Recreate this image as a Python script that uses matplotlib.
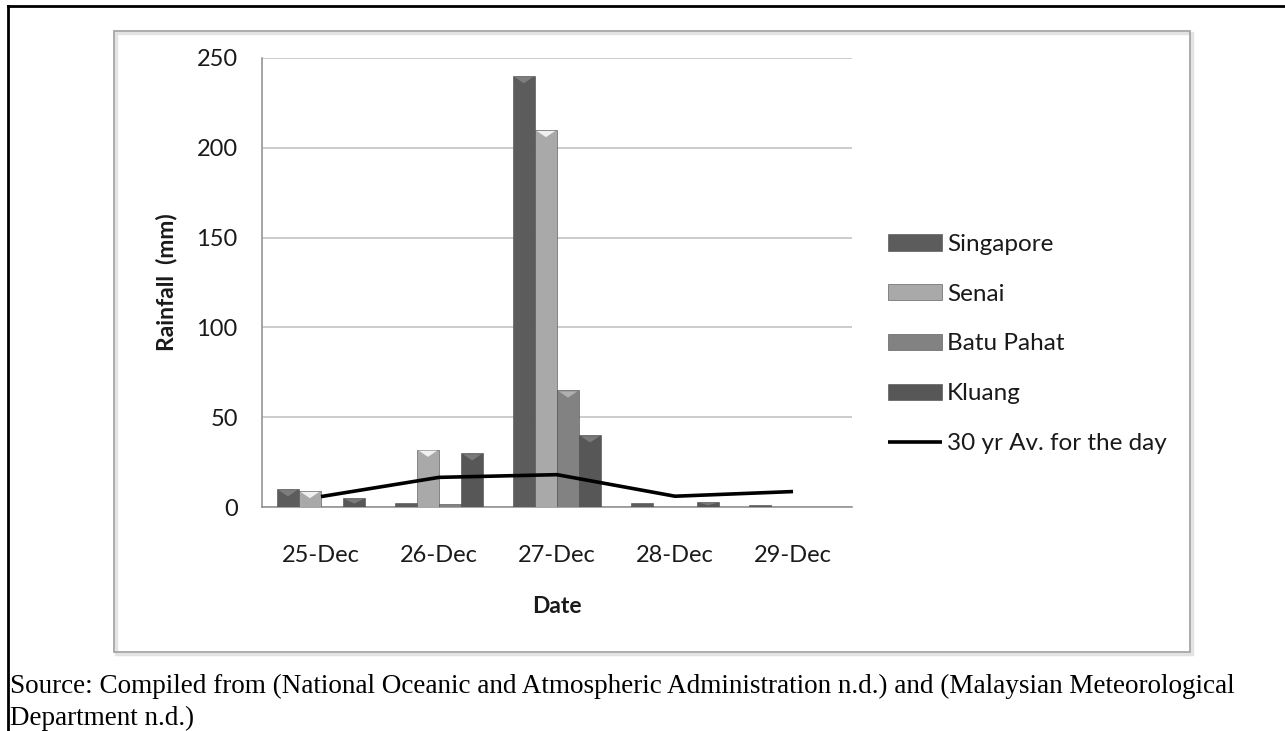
import numpy as np
import matplotlib.pyplot as plt
from matplotlib.patches import Rectangle, Polygon
from matplotlib.lines import Line2D

# ===============================
# Data
# ===============================
dates = ['25-Dec', '26-Dec', '27-Dec', '28-Dec', '29-Dec']
singapore = [10, 2, 240, 2, 1]
senai = [9, 32, 210, 0, 0]
batu_pahat = [0, 1.5, 65, 0, 0]
kluang = [5, 30, 40, 3, 0]
avg_30yr = [5.8, 16.5, 18, 6, 8.6]

series_names = ['Singapore', 'Senai', 'Batu Pahat', 'Kluang']
line_name = '30 yr Av. for the day'
yticks = [0, 50, 100, 150, 200, 250]

source_lines = [
    'Source: Compiled from (National Oceanic and Atmospheric Administration n.d.) and (Malaysian Meteorological',
    'Department n.d.)',
]

# ===============================
# Styling
# ===============================
plt.rcParams['font.family'] = ['Lato', 'DejaVu Sans']
bar_colors = ['#5c5c5c', '#a9a9a9', '#828282', '#575757']
top_colors = ['#7e7e7e', '#f0f0f0', '#b0b0b0', '#7a7a7a']
text_col = '#1a1a1a'

W, H = 1285, 731
fig = plt.figure(figsize=(W / 100, H / 100), dpi=100)
ax = fig.add_axes([262 / W, 1 - 507 / H, (852 - 262) / W, 449 / H])

x = np.arange(len(dates))
bw = 0.1875
all_series = [singapore, senai, batu_pahat, kluang]
handles = []
for i, (vals, name) in enumerate(zip(all_series, series_names)):
    offs = (i - 1.5) * bw
    bars = ax.bar(x + offs, vals, width=bw, color=bar_colors[i],
                  edgecolor='#4a4a4a', linewidth=0.4, label=name, zorder=3)
    handles.append(bars)
    # small bevel highlight on top of each bar
    for b in bars:
        h = b.get_height()
        if h <= 2:
            continue
        th = min(3.5, h * 0.5)
        x0, w = b.get_x(), b.get_width()
        tri = Polygon([[x0 + w * 0.08, h - 0.6], [x0 + w * 0.92, h - 0.6],
                       [x0 + w * 0.5, h - 0.6 - th]],
                      closed=True, facecolor=top_colors[i], edgecolor='none', zorder=4)
        ax.add_patch(tri)

ln, = ax.plot(x, avg_30yr, color='black', linewidth=2.6, zorder=5,
              solid_capstyle='butt', label=line_name)
handles.append(ln)

ax.set_xlim(-0.5, len(dates) - 0.5)
ax.set_ylim(0, 250)
ax.set_yticks(yticks)
ax.set_xticks(x)
ax.set_xticklabels(dates)
ax.tick_params(axis='both', length=0, labelsize=17, labelcolor=text_col)
ax.tick_params(axis='y', pad=17.5)
ax.tick_params(axis='x', pad=27)
ax.yaxis.grid(True, color='#bfbfbf', linewidth=1.1, zorder=0)
ax.set_axisbelow(True)
for s in ['top', 'right']:
    ax.spines[s].set_visible(False)
for s in ['left', 'bottom']:
    ax.spines[s].set_color('#8c8c8c')
    ax.spines[s].set_linewidth(1.1)

ax.set_xlabel('Date', fontsize=16.5, fontweight='bold', color=text_col, labelpad=22)
ax.set_ylabel('Rainfall  (mm)', fontsize=16.5, fontweight='bold', color=text_col, labelpad=14)

fig.legend(handles, series_names + [line_name], loc='center left',
           bbox_to_anchor=(876 / W, 1 - 344 / H), frameon=False,
           fontsize=17.5, labelcolor=text_col, borderpad=0, handlelength=2.2,
           handletextpad=0.22, labelspacing=1.18, handleheight=0.65)

# chart frame with slight shadow
fig.add_artist(Rectangle((116 / W, 1 - 654 / H), (1190 - 114) / W, (652 - 31) / H,
                         transform=fig.transFigure, fill=False,
                         edgecolor='#e3e3e3', linewidth=2.5))
fig.add_artist(Rectangle((114 / W, 1 - 652 / H), (1190 - 114) / W, (652 - 31) / H,
                         transform=fig.transFigure, fill=False,
                         edgecolor='#a6a6a6', linewidth=1.3))

# outer page border (top and left)
fig.add_artist(Line2D([8 / W, 1], [1 - 6 / H, 1 - 6 / H], color='black',
                      linewidth=2, transform=fig.transFigure))
fig.add_artist(Line2D([8 / W, 8 / W], [0, 1 - 6 / H], color='black',
                      linewidth=2, transform=fig.transFigure))

for k, line in enumerate(source_lines):
    fig.text(10 / W, 1 - (686 + 32 * k) / H, line, ha='left', va='center',
             fontsize=19.5, family=['Liberation Serif', 'DejaVu Serif'], color='black')

fig.savefig('out.png', dpi=100)
